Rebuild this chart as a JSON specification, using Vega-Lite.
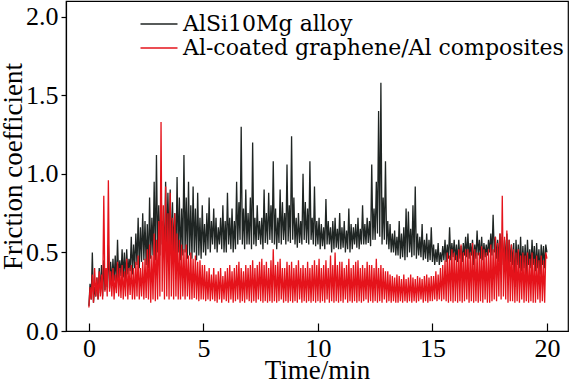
{
  "$schema": "https://vega.github.io/schema/vega-lite/v6.json",
  "width": 502,
  "height": 330,
  "autosize": {"type": "none"},
  "padding": {"left": 66, "top": 1, "right": 3, "bottom": 52},
  "background": "white",
  "config": {
    "font": "Liberation Serif",
    "style": {"guide-label": {"font": "Liberation Serif"}, "guide-title": {"font": "Liberation Serif"}},
    "view": {"stroke": "black", "strokeWidth": 1.2},
    "axis": {"grid": false, "domainColor": "black", "tickColor": "black", "labelColor": "black", "titleColor": "black", "labelFont": "Liberation Serif", "titleFont": "Liberation Serif", "labelFontSize": 26, "titleFontSize": 27, "titleFontWeight": "normal", "domainWidth": 1.2, "tickWidth": 1.2},
    "legend": {"labelFont": "DejaVu Serif", "labelFontSize": 22, "labelColor": "black"}
  },
  "datasets": {
    "friction": [
{"t":0.00,"a":0.16,"b":0.15},{"t":0.05,"a":0.30,"b":0.28},{"t":0.10,"a":0.20,"b":0.20},{"t":0.15,"a":0.50,"b":0.36},{"t":0.20,"a":0.18,"b":0.18},{"t":0.25,"a":0.28,"b":0.40},{"t":0.30,"a":0.22,"b":0.22},{"t":0.35,"a":0.34,"b":0.34},{"t":0.40,"a":0.20,"b":0.20},{"t":0.45,"a":0.40,"b":0.38},
{"t":0.50,"a":0.24,"b":0.22},{"t":0.55,"a":0.42,"b":0.36},{"t":0.60,"a":0.22,"b":0.20},{"t":0.65,"a":0.45,"b":0.86},{"t":0.70,"a":0.26,"b":0.25},{"t":0.75,"a":0.38,"b":0.40},{"t":0.80,"a":0.28,"b":0.22},{"t":0.85,"a":0.55,"b":0.96},{"t":0.90,"a":0.27,"b":0.25},{"t":0.95,"a":0.44,"b":0.38},
{"t":1.00,"a":0.30,"b":0.22},{"t":1.05,"a":0.46,"b":0.40},{"t":1.10,"a":0.32,"b":0.20},{"t":1.15,"a":0.48,"b":0.36},{"t":1.20,"a":0.30,"b":0.24},{"t":1.25,"a":0.58,"b":0.44},{"t":1.30,"a":0.33,"b":0.22},{"t":1.35,"a":0.45,"b":0.40},{"t":1.40,"a":0.35,"b":0.21},{"t":1.45,"a":0.52,"b":0.42},
{"t":1.50,"a":0.34,"b":0.20},{"t":1.55,"a":0.50,"b":0.38},{"t":1.60,"a":0.33,"b":0.22},{"t":1.65,"a":0.52,"b":0.46},{"t":1.70,"a":0.36,"b":0.20},{"t":1.75,"a":0.46,"b":0.40},{"t":1.80,"a":0.38,"b":0.23},{"t":1.85,"a":0.60,"b":0.42},{"t":1.90,"a":0.36,"b":0.20},{"t":1.95,"a":0.55,"b":0.40},
{"t":2.00,"a":0.40,"b":0.20},{"t":2.05,"a":0.62,"b":0.44},{"t":2.10,"a":0.42,"b":0.22},{"t":2.15,"a":0.72,"b":0.48},{"t":2.20,"a":0.40,"b":0.20},{"t":2.25,"a":0.66,"b":0.40},{"t":2.30,"a":0.44,"b":0.22},{"t":2.35,"a":0.75,"b":0.44},{"t":2.40,"a":0.45,"b":0.20},{"t":2.45,"a":0.70,"b":0.46},
{"t":2.50,"a":0.42,"b":0.21},{"t":2.55,"a":0.68,"b":0.52},{"t":2.60,"a":0.40,"b":0.20},{"t":2.65,"a":0.85,"b":0.55},{"t":2.70,"a":0.46,"b":0.18},{"t":2.75,"a":0.72,"b":0.48},{"t":2.80,"a":0.48,"b":0.20},{"t":2.85,"a":0.95,"b":0.62},{"t":2.90,"a":0.45,"b":0.19},{"t":2.95,"a":1.12,"b":0.58},
{"t":3.00,"a":0.50,"b":0.20},{"t":3.05,"a":0.80,"b":0.70},{"t":3.10,"a":0.48,"b":0.22},{"t":3.15,"a":0.92,"b":1.33},{"t":3.20,"a":0.55,"b":0.25},{"t":3.25,"a":0.70,"b":0.80},{"t":3.30,"a":0.50,"b":0.20},{"t":3.35,"a":0.95,"b":0.92},{"t":3.40,"a":0.52,"b":0.22},{"t":3.45,"a":0.88,"b":0.75},
{"t":3.50,"a":0.55,"b":0.20},{"t":3.55,"a":0.90,"b":0.88},{"t":3.60,"a":0.48,"b":0.22},{"t":3.65,"a":0.82,"b":0.72},{"t":3.70,"a":0.50,"b":0.20},{"t":3.75,"a":0.75,"b":0.75},{"t":3.80,"a":0.46,"b":0.22},{"t":3.85,"a":0.98,"b":0.62},{"t":3.90,"a":0.50,"b":0.20},{"t":3.95,"a":0.85,"b":0.58},
{"t":4.00,"a":0.45,"b":0.20},{"t":4.05,"a":0.78,"b":0.55},{"t":4.10,"a":0.48,"b":0.22},{"t":4.15,"a":1.12,"b":0.52},{"t":4.20,"a":0.50,"b":0.20},{"t":4.25,"a":0.85,"b":0.55},{"t":4.30,"a":0.46,"b":0.22},{"t":4.35,"a":0.95,"b":0.48},{"t":4.40,"a":0.48,"b":0.20},{"t":4.45,"a":0.80,"b":0.50},
{"t":4.50,"a":0.46,"b":0.20},{"t":4.55,"a":0.92,"b":0.46},{"t":4.60,"a":0.50,"b":0.21},{"t":4.65,"a":0.78,"b":0.48},{"t":4.70,"a":0.45,"b":0.20},{"t":4.75,"a":0.88,"b":0.44},{"t":4.80,"a":0.48,"b":0.19},{"t":4.85,"a":0.72,"b":0.45},{"t":4.90,"a":0.46,"b":0.20},{"t":4.95,"a":0.80,"b":0.42},
{"t":5.00,"a":0.50,"b":0.20},{"t":5.05,"a":0.68,"b":0.42},{"t":5.10,"a":0.48,"b":0.19},{"t":5.15,"a":0.75,"b":0.38},{"t":5.20,"a":0.52,"b":0.20},{"t":5.25,"a":0.85,"b":0.40},{"t":5.30,"a":0.50,"b":0.19},{"t":5.35,"a":0.70,"b":0.36},{"t":5.40,"a":0.55,"b":0.20},{"t":5.45,"a":0.78,"b":0.40},
{"t":5.50,"a":0.52,"b":0.19},{"t":5.55,"a":0.72,"b":0.36},{"t":5.60,"a":0.50,"b":0.18},{"t":5.65,"a":0.66,"b":0.38},{"t":5.70,"a":0.55,"b":0.20},{"t":5.75,"a":0.72,"b":0.40},{"t":5.80,"a":0.52,"b":0.18},{"t":5.85,"a":0.80,"b":0.35},{"t":5.90,"a":0.50,"b":0.20},{"t":5.95,"a":0.70,"b":0.38},
{"t":6.00,"a":0.50,"b":0.19},{"t":6.05,"a":0.88,"b":0.40},{"t":6.10,"a":0.55,"b":0.18},{"t":6.15,"a":0.72,"b":0.42},{"t":6.20,"a":0.52,"b":0.20},{"t":6.25,"a":0.78,"b":0.38},{"t":6.30,"a":0.50,"b":0.18},{"t":6.35,"a":0.70,"b":0.40},{"t":6.40,"a":0.52,"b":0.19},{"t":6.45,"a":0.95,"b":0.42},
{"t":6.50,"a":0.55,"b":0.20},{"t":6.55,"a":0.82,"b":0.44},{"t":6.60,"a":0.58,"b":0.18},{"t":6.65,"a":1.30,"b":0.40},{"t":6.70,"a":0.55,"b":0.19},{"t":6.75,"a":0.78,"b":0.38},{"t":6.80,"a":0.52,"b":0.18},{"t":6.85,"a":0.90,"b":0.42},{"t":6.90,"a":0.55,"b":0.20},{"t":6.95,"a":0.75,"b":0.40},
{"t":7.00,"a":0.55,"b":0.19},{"t":7.05,"a":0.85,"b":0.42},{"t":7.10,"a":0.52,"b":0.18},{"t":7.15,"a":1.20,"b":0.45},{"t":7.20,"a":0.55,"b":0.19},{"t":7.25,"a":0.72,"b":0.40},{"t":7.30,"a":0.54,"b":0.18},{"t":7.35,"a":0.80,"b":0.42},{"t":7.40,"a":0.58,"b":0.20},{"t":7.45,"a":0.70,"b":0.44},
{"t":7.50,"a":0.55,"b":0.19},{"t":7.55,"a":0.72,"b":0.46},{"t":7.60,"a":0.52,"b":0.18},{"t":7.65,"a":0.90,"b":0.42},{"t":7.70,"a":0.56,"b":0.19},{"t":7.75,"a":0.75,"b":0.44},{"t":7.80,"a":0.55,"b":0.18},{"t":7.85,"a":0.88,"b":0.40},{"t":7.90,"a":0.58,"b":0.19},{"t":7.95,"a":0.80,"b":0.45},
{"t":8.00,"a":0.56,"b":0.18},{"t":8.05,"a":1.08,"b":0.52},{"t":8.10,"a":0.55,"b":0.19},{"t":8.15,"a":0.78,"b":0.42},{"t":8.20,"a":0.52,"b":0.18},{"t":8.25,"a":0.72,"b":0.44},{"t":8.30,"a":0.56,"b":0.19},{"t":8.35,"a":0.90,"b":0.46},{"t":8.40,"a":0.55,"b":0.20},{"t":8.45,"a":0.82,"b":0.40},
{"t":8.50,"a":0.58,"b":0.18},{"t":8.55,"a":0.75,"b":0.40},{"t":8.60,"a":0.55,"b":0.19},{"t":8.65,"a":1.06,"b":0.44},{"t":8.70,"a":0.57,"b":0.18},{"t":8.75,"a":0.80,"b":0.42},{"t":8.80,"a":0.56,"b":0.19},{"t":8.85,"a":1.24,"b":0.44},{"t":8.90,"a":0.58,"b":0.18},{"t":8.95,"a":0.85,"b":0.40},
{"t":9.00,"a":0.55,"b":0.19},{"t":9.05,"a":0.72,"b":0.42},{"t":9.10,"a":0.53,"b":0.18},{"t":9.15,"a":0.75,"b":0.45},{"t":9.20,"a":0.56,"b":0.20},{"t":9.25,"a":0.70,"b":0.40},{"t":9.30,"a":0.55,"b":0.18},{"t":9.35,"a":1.00,"b":0.42},{"t":9.40,"a":0.58,"b":0.19},{"t":9.45,"a":0.82,"b":0.40},
{"t":9.50,"a":0.56,"b":0.18},{"t":9.55,"a":0.78,"b":0.44},{"t":9.60,"a":0.55,"b":0.19},{"t":9.65,"a":1.08,"b":0.40},{"t":9.70,"a":0.58,"b":0.18},{"t":9.75,"a":0.72,"b":0.42},{"t":9.80,"a":0.55,"b":0.19},{"t":9.85,"a":0.92,"b":0.45},{"t":9.90,"a":0.54,"b":0.18},{"t":9.95,"a":0.70,"b":0.42},
{"t":10.00,"a":0.55,"b":0.19},{"t":10.05,"a":0.72,"b":0.46},{"t":10.10,"a":0.52,"b":0.18},{"t":10.15,"a":0.68,"b":0.40},{"t":10.20,"a":0.54,"b":0.19},{"t":10.25,"a":0.66,"b":0.42},{"t":10.30,"a":0.52,"b":0.18},{"t":10.35,"a":0.84,"b":0.45},{"t":10.40,"a":0.55,"b":0.20},{"t":10.45,"a":0.70,"b":0.40},
{"t":10.50,"a":0.55,"b":0.18},{"t":10.55,"a":0.66,"b":0.48},{"t":10.60,"a":0.50,"b":0.19},{"t":10.65,"a":0.70,"b":0.42},{"t":10.70,"a":0.52,"b":0.18},{"t":10.75,"a":0.72,"b":0.50},{"t":10.80,"a":0.53,"b":0.19},{"t":10.85,"a":0.65,"b":0.42},{"t":10.90,"a":0.52,"b":0.18},{"t":10.95,"a":0.75,"b":0.44},
{"t":11.00,"a":0.52,"b":0.19},{"t":11.05,"a":0.66,"b":0.44},{"t":11.10,"a":0.53,"b":0.18},{"t":11.15,"a":0.70,"b":0.40},{"t":11.20,"a":0.50,"b":0.20},{"t":11.25,"a":0.64,"b":0.42},{"t":11.30,"a":0.52,"b":0.18},{"t":11.35,"a":0.78,"b":0.46},{"t":11.40,"a":0.50,"b":0.19},{"t":11.45,"a":0.68,"b":0.40},
{"t":11.50,"a":0.52,"b":0.18},{"t":11.55,"a":0.66,"b":0.42},{"t":11.60,"a":0.55,"b":0.19},{"t":11.65,"a":0.68,"b":0.44},{"t":11.70,"a":0.53,"b":0.18},{"t":11.75,"a":0.72,"b":0.45},{"t":11.80,"a":0.52,"b":0.19},{"t":11.85,"a":0.65,"b":0.40},{"t":11.90,"a":0.55,"b":0.18},{"t":11.95,"a":0.80,"b":0.42},
{"t":12.00,"a":0.55,"b":0.19},{"t":12.05,"a":0.68,"b":0.40},{"t":12.10,"a":0.55,"b":0.20},{"t":12.15,"a":0.72,"b":0.44},{"t":12.20,"a":0.56,"b":0.18},{"t":12.25,"a":0.70,"b":0.42},{"t":12.30,"a":0.54,"b":0.19},{"t":12.35,"a":1.06,"b":0.42},{"t":12.40,"a":0.58,"b":0.18},{"t":12.45,"a":0.78,"b":0.40},
{"t":12.50,"a":0.58,"b":0.19},{"t":12.55,"a":0.95,"b":0.46},{"t":12.60,"a":0.62,"b":0.18},{"t":12.65,"a":1.40,"b":0.40},{"t":12.70,"a":0.60,"b":0.19},{"t":12.75,"a":1.58,"b":0.42},{"t":12.80,"a":0.55,"b":0.18},{"t":12.85,"a":0.85,"b":0.40},{"t":12.90,"a":0.58,"b":0.20},{"t":12.95,"a":1.08,"b":0.38},
{"t":13.00,"a":0.55,"b":0.18},{"t":13.05,"a":0.70,"b":0.38},{"t":13.10,"a":0.52,"b":0.19},{"t":13.15,"a":0.68,"b":0.36},{"t":13.20,"a":0.50,"b":0.18},{"t":13.25,"a":0.62,"b":0.35},{"t":13.30,"a":0.50,"b":0.19},{"t":13.35,"a":0.64,"b":0.34},{"t":13.40,"a":0.48,"b":0.18},{"t":13.45,"a":0.60,"b":0.36},
{"t":13.50,"a":0.48,"b":0.18},{"t":13.55,"a":0.70,"b":0.35},{"t":13.60,"a":0.46,"b":0.19},{"t":13.65,"a":0.62,"b":0.33},{"t":13.70,"a":0.47,"b":0.18},{"t":13.75,"a":0.66,"b":0.36},{"t":13.80,"a":0.45,"b":0.19},{"t":13.85,"a":0.78,"b":0.33},{"t":13.90,"a":0.47,"b":0.18},{"t":13.95,"a":0.76,"b":0.34},
{"t":14.00,"a":0.50,"b":0.19},{"t":14.05,"a":0.65,"b":0.36},{"t":14.10,"a":0.47,"b":0.18},{"t":14.15,"a":0.80,"b":0.34},{"t":14.20,"a":0.48,"b":0.19},{"t":14.25,"a":0.92,"b":0.33},{"t":14.30,"a":0.46,"b":0.18},{"t":14.35,"a":0.62,"b":0.35},{"t":14.40,"a":0.48,"b":0.19},{"t":14.45,"a":0.60,"b":0.34},
{"t":14.50,"a":0.47,"b":0.20},{"t":14.55,"a":0.68,"b":0.33},{"t":14.60,"a":0.45,"b":0.18},{"t":14.65,"a":0.58,"b":0.35},{"t":14.70,"a":0.46,"b":0.19},{"t":14.75,"a":0.62,"b":0.36},{"t":14.80,"a":0.44,"b":0.18},{"t":14.85,"a":0.58,"b":0.34},{"t":14.90,"a":0.45,"b":0.19},{"t":14.95,"a":0.66,"b":0.35},
{"t":15.00,"a":0.44,"b":0.19},{"t":15.05,"a":0.55,"b":0.35},{"t":15.10,"a":0.42,"b":0.20},{"t":15.15,"a":0.52,"b":0.38},{"t":15.20,"a":0.44,"b":0.19},{"t":15.25,"a":0.56,"b":0.36},{"t":15.30,"a":0.42,"b":0.20},{"t":15.35,"a":0.50,"b":0.40},{"t":15.40,"a":0.44,"b":0.19},{"t":15.45,"a":0.54,"b":0.42},
{"t":15.50,"a":0.45,"b":0.20},{"t":15.55,"a":0.58,"b":0.45},{"t":15.60,"a":0.44,"b":0.19},{"t":15.65,"a":0.55,"b":0.50},{"t":15.70,"a":0.46,"b":0.18},{"t":15.75,"a":0.66,"b":0.48},{"t":15.80,"a":0.45,"b":0.19},{"t":15.85,"a":0.56,"b":0.52},{"t":15.90,"a":0.47,"b":0.18},{"t":15.95,"a":0.58,"b":0.50},
{"t":16.00,"a":0.45,"b":0.19},{"t":16.05,"a":0.55,"b":0.48},{"t":16.10,"a":0.44,"b":0.18},{"t":16.15,"a":0.58,"b":0.52},{"t":16.20,"a":0.46,"b":0.19},{"t":16.25,"a":0.54,"b":0.55},{"t":16.30,"a":0.44,"b":0.18},{"t":16.35,"a":0.56,"b":0.50},{"t":16.40,"a":0.48,"b":0.19},{"t":16.45,"a":0.60,"b":0.52},
{"t":16.50,"a":0.47,"b":0.20},{"t":16.55,"a":0.62,"b":0.52},{"t":16.60,"a":0.46,"b":0.18},{"t":16.65,"a":0.56,"b":0.50},{"t":16.70,"a":0.48,"b":0.19},{"t":16.75,"a":0.58,"b":0.56},{"t":16.80,"a":0.42,"b":0.18},{"t":16.85,"a":0.55,"b":0.52},{"t":16.90,"a":0.46,"b":0.19},{"t":16.95,"a":0.64,"b":0.50},
{"t":17.00,"a":0.48,"b":0.18},{"t":17.05,"a":0.58,"b":0.50},{"t":17.10,"a":0.46,"b":0.19},{"t":17.15,"a":0.60,"b":0.54},{"t":17.20,"a":0.45,"b":0.18},{"t":17.25,"a":0.56,"b":0.52},{"t":17.30,"a":0.47,"b":0.20},{"t":17.35,"a":0.55,"b":0.50},{"t":17.40,"a":0.48,"b":0.18},{"t":17.45,"a":0.58,"b":0.52},
{"t":17.50,"a":0.50,"b":0.18},{"t":17.55,"a":0.62,"b":0.55},{"t":17.60,"a":0.48,"b":0.19},{"t":17.65,"a":0.74,"b":0.52},{"t":17.70,"a":0.50,"b":0.20},{"t":17.75,"a":0.60,"b":0.60},{"t":17.80,"a":0.46,"b":0.19},{"t":17.85,"a":0.58,"b":0.56},{"t":17.90,"a":0.44,"b":0.22},{"t":17.95,"a":0.62,"b":0.62},
{"t":18.00,"a":0.45,"b":0.20},{"t":18.05,"a":0.60,"b":0.86},{"t":18.10,"a":0.42,"b":0.22},{"t":18.15,"a":0.58,"b":0.60},{"t":18.20,"a":0.44,"b":0.20},{"t":18.25,"a":0.62,"b":0.64},{"t":18.30,"a":0.40,"b":0.18},{"t":18.35,"a":0.58,"b":0.58},{"t":18.40,"a":0.44,"b":0.19},{"t":18.45,"a":0.55,"b":0.55},
{"t":18.50,"a":0.42,"b":0.19},{"t":18.55,"a":0.56,"b":0.52},{"t":18.60,"a":0.28,"b":0.18},{"t":18.65,"a":0.58,"b":0.50},{"t":18.70,"a":0.42,"b":0.19},{"t":18.75,"a":0.55,"b":0.52},{"t":18.80,"a":0.40,"b":0.18},{"t":18.85,"a":0.60,"b":0.48},{"t":18.90,"a":0.38,"b":0.20},{"t":18.95,"a":0.54,"b":0.50},
{"t":19.00,"a":0.40,"b":0.18},{"t":19.05,"a":0.55,"b":0.48},{"t":19.10,"a":0.36,"b":0.19},{"t":19.15,"a":0.58,"b":0.50},{"t":19.20,"a":0.42,"b":0.18},{"t":19.25,"a":0.52,"b":0.46},{"t":19.30,"a":0.40,"b":0.19},{"t":19.35,"a":0.58,"b":0.50},{"t":19.40,"a":0.42,"b":0.18},{"t":19.45,"a":0.54,"b":0.46},
{"t":19.50,"a":0.38,"b":0.18},{"t":19.55,"a":0.56,"b":0.48},{"t":19.60,"a":0.40,"b":0.20},{"t":19.65,"a":0.52,"b":0.45},{"t":19.70,"a":0.36,"b":0.18},{"t":19.75,"a":0.55,"b":0.48},{"t":19.80,"a":0.42,"b":0.19},{"t":19.85,"a":0.54,"b":0.45},{"t":19.90,"a":0.40,"b":0.18},{"t":19.95,"a":0.55,"b":0.50},
{"t":20.00,"a":0.50,"b":0.46}
    ]
  },
  "data": {"name": "friction"},
  "encoding": {
    "x": {"field": "t", "type": "quantitative", "scale": {"domain": [-1, 20.92], "nice": false, "zero": false},
      "axis": {"values": [0, 5, 10, 15, 20], "tickSize": -8, "labelPadding": 12, "title": "Time/min", "titlePadding": -4, "labelFlush": false}}
  },
  "layer": [
    {"mark": {"type": "line", "strokeWidth": 1.3, "interpolate": "linear"},
     "encoding": {
       "y": {"field": "a", "type": "quantitative", "scale": {"domain": [0, 2.1], "nice": false},
         "axis": {"values": [0, 0.5, 1, 1.5, 2], "format": ".1f", "tickSize": 5, "labelPadding": 3, "title": "Friction coefficient", "titlePadding": -2, "labelFlush": false}},
       "color": {"datum": "AlSi10Mg alloy", "type": "nominal",
         "scale": {"domain": ["AlSi10Mg alloy", "Al-coated graphene/Al composites"], "range": ["#1f2523", "#e5131b"]},
         "legend": {"title": null, "orient": "none", "legendX": 82, "legendY": 12, "symbolType": "M-2,0H2", "symbolSize": 342, "symbolStrokeWidth": 1.5, "labelOffset": 13, "rowPadding": 2, "labelLimit": 500, "labelFont": "DejaVu Serif", "labelFontSize": 22, "labelColor": "black"}}
     }},
    {"mark": {"type": "line", "strokeWidth": 1.3, "interpolate": "linear"},
     "encoding": {
       "y": {"field": "b", "type": "quantitative"},
       "color": {"datum": "Al-coated graphene/Al composites", "type": "nominal",
         "legend": {"title": null, "orient": "none", "legendX": 82, "legendY": 12, "symbolType": "M-2,0H2", "symbolSize": 342, "symbolStrokeWidth": 1.5, "labelOffset": 13, "rowPadding": 2, "labelLimit": 500, "labelFont": "DejaVu Serif", "labelFontSize": 22, "labelColor": "black"}}
     }}
  ]
}
